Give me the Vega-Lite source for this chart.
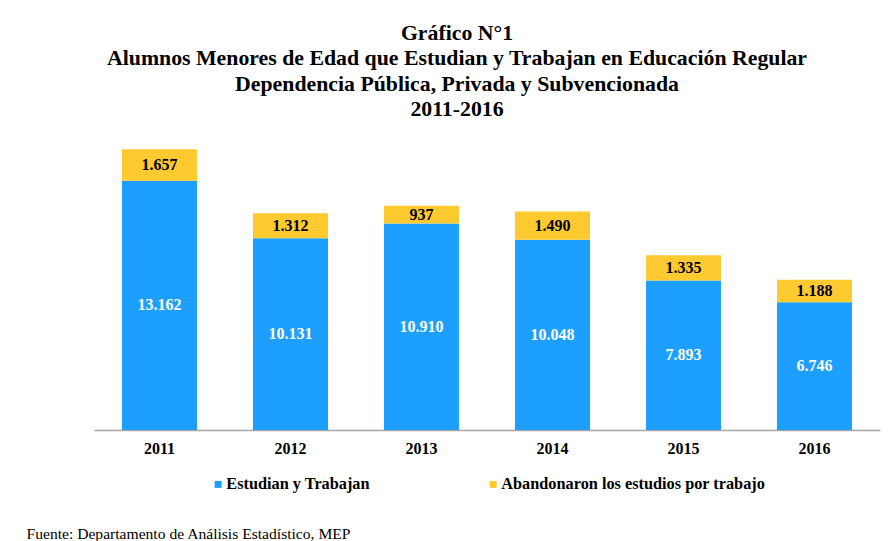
{
  "$schema": "https://vega.github.io/schema/vega-lite/v6.json",
  "width": 786,
  "height": 303,
  "autosize": {"type": "none"},
  "padding": {"left": 94, "top": 127, "right": 8, "bottom": 111},
  "background": "white",
  "config": {
    "locale": {"number": {"decimal": ",", "thousands": ".", "grouping": [3], "currency": ["", ""]}},
    "view": {"stroke": null},
    "font": "'Liberation Serif', 'Times New Roman', serif"
  },
  "title": {
    "text": ["Gráfico N°1", "Alumnos Menores de Edad que Estudian y Trabajan en Educación Regular", "Dependencia Pública, Privada y Subvencionada", "2011-2016"],
    "font": "'Liberation Serif', 'Times New Roman', serif",
    "fontSize": 21.8,
    "fontWeight": "bold",
    "color": "black",
    "lineHeight": 25.5,
    "anchor": "middle",
    "frame": "group",
    "dx": -30,
    "offset": 6
  },
  "data": {
    "values": [
      {"anio": "2011", "serie": "Estudian y Trabajan", "valor": 13162},
      {"anio": "2011", "serie": "Abandonaron los estudios por trabajo", "valor": 1657},
      {"anio": "2012", "serie": "Estudian y Trabajan", "valor": 10131},
      {"anio": "2012", "serie": "Abandonaron los estudios por trabajo", "valor": 1312},
      {"anio": "2013", "serie": "Estudian y Trabajan", "valor": 10910},
      {"anio": "2013", "serie": "Abandonaron los estudios por trabajo", "valor": 937},
      {"anio": "2014", "serie": "Estudian y Trabajan", "valor": 10048},
      {"anio": "2014", "serie": "Abandonaron los estudios por trabajo", "valor": 1490},
      {"anio": "2015", "serie": "Estudian y Trabajan", "valor": 7893},
      {"anio": "2015", "serie": "Abandonaron los estudios por trabajo", "valor": 1335},
      {"anio": "2016", "serie": "Estudian y Trabajan", "valor": 6746},
      {"anio": "2016", "serie": "Abandonaron los estudios por trabajo", "valor": 1188}
    ]
  },
  "encoding": {
    "x": {
      "field": "anio",
      "type": "nominal",
      "scale": {"paddingInner": 0.427, "paddingOuter": 0.2135},
      "axis": {
        "title": "Fuente: Departamento de Análisis Estadístico, MEP",
        "titleFont": "'Liberation Serif', 'Times New Roman', serif",
        "titleFontSize": 15.6,
        "titleFontWeight": "normal",
        "titleColor": "black",
        "titleAlign": "left",
        "titleBaseline": "alphabetic",
        "titleX": -68,
        "titleY": 108,
        "labelAngle": 0,
        "labelFont": "'Liberation Serif', 'Times New Roman', serif",
        "labelFontSize": 16,
        "labelFontWeight": "bold",
        "labelColor": "black",
        "labelPadding": 10,
        "ticks": false,
        "grid": false,
        "domainColor": "#A6A6A6",
        "domainWidth": 1.5
      }
    }
  },
  "layer": [
    {
      "mark": {"type": "bar"},
      "encoding": {
        "y": {"field": "valor", "type": "quantitative", "stack": "zero", "scale": {"domain": [0, 16000]}, "axis": null},
        "color": {
          "field": "serie",
          "type": "nominal",
          "scale": {"domain": ["Estudian y Trabajan", "Abandonaron los estudios por trabajo"], "range": ["#1C9FFF", "#FFC930"]},
          "legend": {
            "title": null,
            "orient": "none",
            "direction": "horizontal",
            "legendX": 116,
            "legendY": 349,
            "padding": 0,
            "symbolType": "square",
            "symbolSize": 49,
            "symbolStrokeWidth": 0,
            "labelFont": "'Liberation Serif', 'Times New Roman', serif",
            "labelFontSize": 16.3,
            "labelFontWeight": "bold",
            "labelColor": "black",
            "labelOffset": 0,
            "labelLimit": 400,
            "columnPadding": 115
          }
        }
      }
    },
    {
      "mark": {"type": "text", "font": "'Liberation Serif', 'Times New Roman', serif", "fontSize": 16, "fontWeight": "bold", "baseline": "middle"},
      "encoding": {
        "y": {"field": "valor", "type": "quantitative", "stack": "zero", "bandPosition": 0.5},
        "text": {"field": "valor", "type": "quantitative", "format": ",d"},
        "color": {
          "field": "serie",
          "type": "nominal",
          "scale": {"domain": ["Estudian y Trabajan", "Abandonaron los estudios por trabajo"], "range": ["white", "black"]},
          "legend": null
        }
      }
    }
  ],
  "resolve": {"scale": {"color": "independent"}}
}
